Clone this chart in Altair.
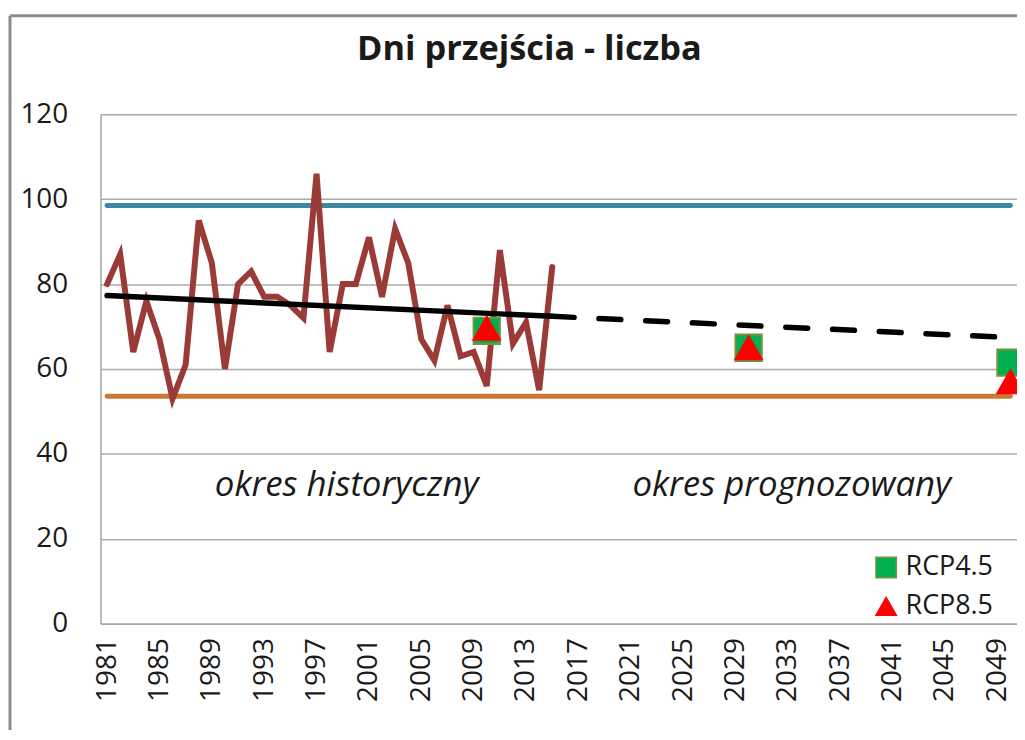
import altair as alt
import pandas as pd

# ---- data ----
hist_years = list(range(1981, 2016))
hist_values = [80, 87, 64, 76, 67, 53, 61, 95, 85, 60, 80, 83, 77, 77, 75, 72, 106, 64,
               80, 80, 91, 77, 93, 85, 67, 62, 75, 63, 64, 56, 88, 66, 71, 55, 84]

trend_solid_years = [1981, 2015]
trend_solid_values = [77.3, 72.4]
trend_dash_years = [2015, 2050]
trend_dash_values = [72.4, 67.4]

limit_years = [1981, 2050]
upper_limit = 98.5
lower_limit = 53.6

rcp_years = [2010, 2030, 2050]
rcp45_values = [69.0, 65.0, 61.5]
rcp85_values = [69.6, 65.0, 57.0]
scenarios = ["RCP4.5", "RCP8.5"]

note_labels = ["okres historyczny", "okres prognozowany"]
note_years = [1999.3, 2033.3]
note_values = [32.6, 32.6]

title_text = "Dni przejścia - liczba"
x_tick_values = list(range(1981, 2050, 4))
y_tick_values = [0, 20, 40, 60, 80, 100, 120]
FONT = "Open Sans"

# ---- tables ----
hist_df = pd.DataFrame({"year": hist_years, "value": hist_values})
solid_df = pd.DataFrame({"year": trend_solid_years, "value": trend_solid_values})
dash_df = pd.DataFrame({"year": trend_dash_years, "value": trend_dash_values})
limits_df = pd.DataFrame({
    "year": limit_years * 2,
    "value": [upper_limit] * 2 + [lower_limit] * 2,
    "which": ["upper"] * 2 + ["lower"] * 2,
})
rcp_df = pd.DataFrame({
    "year": rcp_years * 2,
    "value": rcp45_values + rcp85_values,
    "scenario": [scenarios[0]] * 3 + [scenarios[1]] * 3,
})
notes_df = pd.DataFrame({"label": note_labels, "year": note_years, "value": note_values})

xscale = alt.Scale(domain=[1980.5, 2050.5], nice=False, zero=False)
yscale = alt.Scale(domain=[0, 120], nice=False)

X = alt.X("year:Q", scale=xscale,
          axis=alt.Axis(values=x_tick_values, format="d", labelAngle=-90, grid=False,
                        ticks=False, labelPadding=14, labelFontSize=28, labelFont=FONT,
                        labelColor="#1a1a1a", domainColor="#A6A6A6", domainWidth=1.5,
                        title=None, labelOverlap=False))
Y = alt.Y("value:Q", scale=yscale,
          axis=alt.Axis(values=y_tick_values, grid=True, gridColor="#AAAAAA",
                        gridWidth=1.5, ticks=False, labelPadding=33, labelFontSize=28,
                        labelFont=FONT, labelColor="#1a1a1a", domainColor="#A6A6A6",
                        domainWidth=1.5, title=None))

upper = alt.Chart(limits_df).transform_filter(alt.datum.which == "upper").mark_line(
    color="#3A89A0", strokeWidth=5, strokeCap="round").encode(x=X, y=Y)
lower = alt.Chart(limits_df).transform_filter(alt.datum.which == "lower").mark_line(
    color="#CC7733", strokeWidth=5, strokeCap="round").encode(x=X, y=Y)

hist = alt.Chart(hist_df).mark_line(color="#9A3B38", strokeWidth=6, strokeJoin="miter",
                                    strokeCap="round").encode(x=X, y=Y)

trend_solid = alt.Chart(solid_df).mark_line(color="black", strokeWidth=5.5,
                                            strokeCap="round").encode(x=X, y=Y)
trend_dash = alt.Chart(dash_df).mark_line(color="black", strokeWidth=5.5, strokeCap="round",
                                          strokeDash=[22, 25]).encode(x=X, y=Y)

leg = alt.Legend(title=None, orient="none", legendX=776, legendY=442, labelFont=FONT,
                 labelFontSize=27, labelColor="#1a1a1a", symbolSize=420,
                 symbolStrokeWidth=1.5, rowPadding=11, labelOffset=6)
points = alt.Chart(rcp_df).mark_point(filled=True, size=700, strokeWidth=2, opacity=1).encode(
    x=X, y=Y,
    shape=alt.Shape("scenario:N", scale=alt.Scale(domain=scenarios, range=["square", "triangle-up"]), legend=leg),
    fill=alt.Fill("scenario:N", scale=alt.Scale(domain=scenarios, range=["#00B050", "#FF0000"]), legend=leg),
    stroke=alt.Stroke("scenario:N", scale=alt.Scale(domain=scenarios, range=["#77933C", "#FF0000"]), legend=leg),
)

notes = alt.Chart(notes_df).mark_text(font=FONT, fontSize=35, fontStyle="italic",
                                      color="#1a1a1a", baseline="middle", align="center").encode(
    x=X, y=Y, text="label:N")

one_df = pd.DataFrame({"k": [0], "t": [title_text]})
title = alt.Chart(one_df).mark_text(font=FONT, fontSize=34.5, fontWeight="bold", color="#1a1a1a",
                                    align="center", baseline="middle").encode(
    x=alt.value(431), y=alt.value(-65), text="t:N")

frame_left = alt.Chart(one_df).mark_rule(color="#8C8C8C", strokeWidth=3).encode(
    x=alt.value(-91), y=alt.value(-99), y2=alt.value(640))
frame_top = alt.Chart(one_df).mark_rule(color="#8C8C8C", strokeWidth=3).encode(
    x=alt.value(-91), x2=alt.value(940), y=alt.value(-99))

chart = alt.layer(
    frame_left, frame_top, title, upper, lower, hist, trend_solid, trend_dash, points, notes
).properties(
    width=921, height=512,
    autosize=alt.AutoSizeParams(type="none"),
    padding={"left": 93, "top": 105, "right": 0, "bottom": 105},
).configure_view(stroke=None).configure(background="white")

chart.save("out.html", embed_options={"renderer": "svg", "actions": False})
